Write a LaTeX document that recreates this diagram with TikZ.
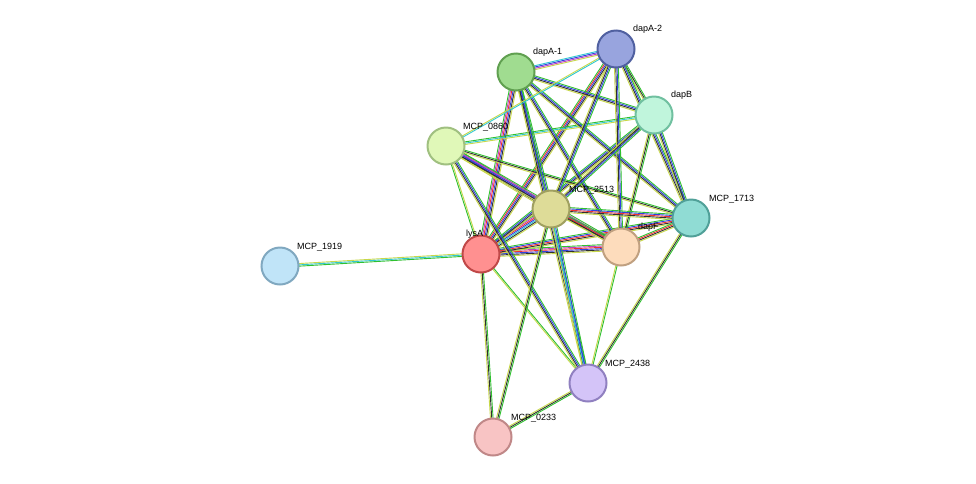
\documentclass[tikz,border=0pt]{standalone}
\usepackage{fontspec}
\setmainfont{Liberation Sans}
\usetikzlibrary{calc}
\definecolor{Y}{HTML}{C8D84A}\definecolor{G}{HTML}{30C030}\definecolor{K}{HTML}{303030}
\definecolor{B}{HTML}{3040E0}\definecolor{C}{HTML}{30C8D0}\definecolor{R}{HTML}{F03030}\definecolor{M}{HTML}{C040C0}
\definecolor{f1}{HTML}{A0DC90}\definecolor{d1}{HTML}{60A050}
\definecolor{f2}{HTML}{98A4DE}\definecolor{d2}{HTML}{5060A0}
\definecolor{f3}{HTML}{C0F5DC}\definecolor{d3}{HTML}{70C0A0}
\definecolor{f4}{HTML}{E0F8B8}\definecolor{d4}{HTML}{A0C080}
\definecolor{f5}{HTML}{DEDC98}\definecolor{d5}{HTML}{A0A060}
\definecolor{f6}{HTML}{90DCD4}\definecolor{d6}{HTML}{50A098}
\definecolor{f7}{HTML}{FDDCBC}\definecolor{d7}{HTML}{C0A080}
\definecolor{f8}{HTML}{FF9090}\definecolor{d8}{HTML}{C04848}
\definecolor{f9}{HTML}{C0E4F8}\definecolor{d9}{HTML}{80A8C0}
\definecolor{f10}{HTML}{D4C4F8}\definecolor{d10}{HTML}{9080C0}
\definecolor{f11}{HTML}{F8C4C4}\definecolor{d11}{HTML}{C08888}
\newcommand\edge[4]{\foreach \c [count=\i] in {#4}{\pgfmathsetmacro\o{(\i-(#3+1)/2)*1.3}
 \draw[\c,line width=0.9pt] ($(#1)!\o pt!90:(#2)$) -- ($(#2)!\o pt!-90:(#1)$);}}
\tikzset{prot/.style={circle,minimum size=37pt,inner sep=0pt,line width=2pt,fill=f#1,draw=d#1},
 lab/.style={font=\fontsize{9}{10}\selectfont,anchor=south west,inner sep=1pt}}
\begin{document}
\begin{tikzpicture}[x=1pt,y=-1pt]
\useasboundingbox[fill=white] (0,0) rectangle (976,483);
\coordinate (dA1) at (516,72);\coordinate (dA2) at (616,49);\coordinate (dB) at (654,115);
\coordinate (m860) at (446,146);\coordinate (m2513) at (551,209);\coordinate (m1713) at (691,218);
\coordinate (dF) at (621,247);\coordinate (lys) at (481,254);\coordinate (m1919) at (280,266);
\coordinate (m2438) at (588,383);\coordinate (m233) at (493,437);
\edge{lys}{m1919}{3}{Y,C,G}
\edge{lys}{m233}{3}{Y,K,G}
\edge{lys}{m2438}{2}{Y,G}
\edge{lys}{m2513}{7}{Y,K,C,B,R,M,G}
\edge{lys}{dF}{6}{Y,K,B,R,M,G}
\edge{lys}{m1713}{5}{Y,K,R,B,G}
\edge{lys}{dA1}{6}{Y,K,B,R,M,G}
\edge{lys}{dA2}{5}{Y,K,B,R,G}
\edge{lys}{m860}{2}{Y,G}
\edge{lys}{dB}{4}{Y,K,B,G}
\edge{m860}{m2513}{5}{Y,K,B,M,G}
\edge{m860}{dF}{5}{Y,K,B,M,G}
\edge{m860}{m1713}{3}{Y,K,G}
\edge{m860}{dB}{3}{Y,C,G}
\edge{m860}{m2438}{4}{Y,K,B,G}
\edge{dA1}{dA2}{4}{Y,M,B,C}
\edge{dA1}{dB}{4}{Y,K,B,G}
\edge{dA1}{m2513}{4}{Y,K,B,G}
\edge{dA1}{dF}{4}{Y,K,B,G}
\edge{dA1}{m1713}{4}{Y,K,B,G}
\edge{dA1}{m2438}{4}{Y,K,B,G}
\edge{dA2}{dB}{3}{Y,K,G}
\edge{dA2}{m2513}{4}{Y,K,B,G}
\edge{dA2}{dF}{4}{Y,K,B,G}
\edge{dA2}{m1713}{4}{Y,K,B,G}
\edge{dA2}{m860}{2}{Y,C}
\edge{dB}{m2513}{4}{Y,K,B,G}
\edge{dB}{dF}{3}{Y,K,G}
\edge{dB}{m1713}{4}{Y,K,B,G}
\edge{m2513}{dF}{4}{Y,K,R,G}
\edge{m2513}{m1713}{5}{Y,K,R,B,G}
\edge{m2513}{m2438}{4}{Y,C,B,G}
\edge{m2513}{m233}{3}{Y,K,G}
\edge{dF}{m1713}{4}{Y,K,R,G}
\edge{dF}{m2438}{2}{Y,G}
\edge{m1713}{m2438}{3}{Y,K,G}
\edge{m2438}{m233}{3}{Y,K,G}
\node[prot=1] (n1) at (dA1) {};
\node[prot=2] (n2) at (dA2) {};
\node[prot=3] (n3) at (dB) {};
\node[prot=4] (n4) at (m860) {};
\node[prot=5] (n5) at (m2513) {};
\node[prot=6] (n6) at (m1713) {};
\node[prot=7] (n7) at (dF) {};
\node[prot=8] (n8) at (lys) {};
\node[prot=9] (n9) at (m1919) {};
\node[prot=10] (n10) at (m2438) {};
\node[prot=11] (n11) at (m233) {};
\node[lab] at (532,58) {dapA-1};
\node[lab] at (632,35) {dapA-2};
\node[lab] at (670,101) {dapB};
\node[lab] at (462,132) {MCP\_0860};
\node[lab] at (568,195) {MCP\_2513};
\node[lab] at (708,204) {MCP\_1713};
\node[lab] at (637,233) {dapF};
\node[lab] at (465,240) {lysA};
\node[lab] at (296,252) {MCP\_1919};
\node[lab] at (604,369) {MCP\_2438};
\node[lab] at (510,423) {MCP\_0233};
\end{tikzpicture}
\end{document}
